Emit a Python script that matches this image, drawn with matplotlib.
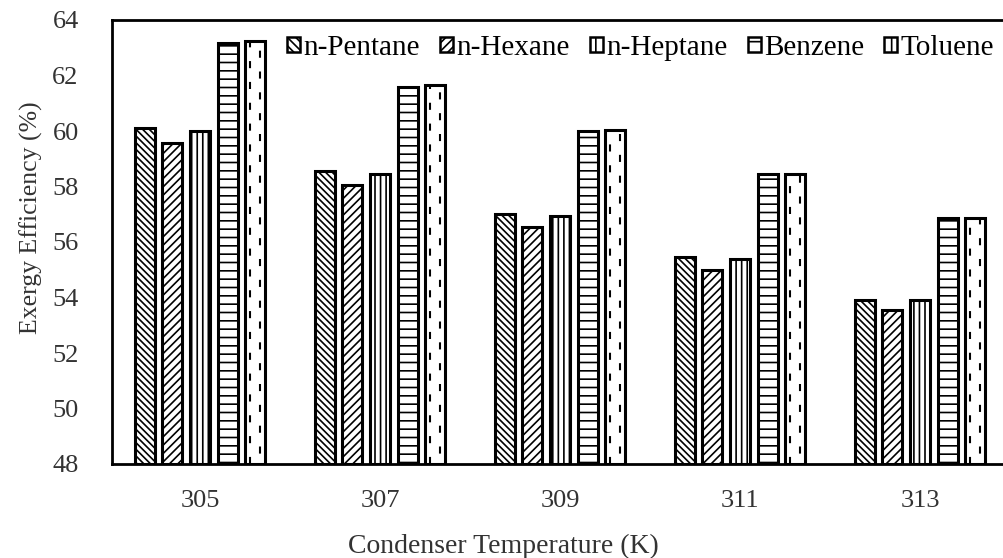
import matplotlib
matplotlib.use('Agg')
import matplotlib.pyplot as plt
from matplotlib.patches import Patch
import numpy as np

# Data
temps = ['305', '307', '309', '311', '313']
fluids = ['n-Pentane', 'n-Hexane', 'n-Heptane', 'Benzene', 'Toluene']
pentane = [60.1, 58.55, 57.0, 55.45, 53.9]
hexane = [59.58, 58.05, 56.55, 55.0, 53.55]
heptane = [60.0, 58.45, 56.95, 55.4, 53.9]
benzene = [63.18, 61.6, 60.0, 58.45, 56.85]
toluene = [63.23, 61.65, 60.05, 58.45, 56.85]
series = [pentane, hexane, heptane, benzene, toluene]
hatches = ['\\\\\\\\\\', '////', '|||', '--', '']
legend_hatches = ['\\\\\\\\', '////', '||', '-', '|']

plt.rcParams['font.family'] = ['Liberation Serif', 'DejaVu Serif']
plt.rcParams['hatch.linewidth'] = 1.2

fig = plt.figure(figsize=(10.04, 5.58), dpi=100)
ax = fig.add_axes([112 / 1004, 94 / 558, 892 / 1004, 444 / 558])

x = np.arange(len(temps))
w = 0.111
step = 0.154
for i, vals in enumerate(series):
    pos = x + (i - 2) * step
    ax.bar(pos, np.array(vals) - 48, w, bottom=48, color='white',
           edgecolor='black', linewidth=2.2, hatch=hatches[i])
    if fluids[i] == 'Toluene':
        # dashed vertical pattern, two staggered columns
        for k, v in enumerate(vals):
            ax.vlines(pos[k] - w * 0.25, 48, v, color='black', lw=1.5,
                      linestyles=[(0, (3.4, 6.6))])
            ax.vlines(pos[k] + w * 0.22, 48, v, color='black', lw=1.5,
                      linestyles=[(5, (3.4, 6.6))])

ax.set_ylim(48, 64)
ax.set_yticks(range(48, 65, 2))
ax.set_xlim(-88 / 180, 804 / 180)
ax.set_xticks(x)
ax.set_xticklabels(temps)
ax.tick_params(length=0, labelsize=19, colors='#333333')
ax.tick_params(axis='x', pad=19)
ax.tick_params(axis='y', pad=24)
for s in ['left', 'top', 'bottom']:
    ax.spines[s].set_linewidth(2)
ax.spines['right'].set_visible(False)

fig.text(503 / 1004, 1 - 553 / 558, 'Condenser Temperature (K)', fontsize=20,
         color='#333333', ha='center', va='baseline')
fig.text(31 / 1004, 1 - 218 / 558, 'Exergy Efficiency (%)', fontsize=18.5,
         color='#333333', ha='center', va='center', rotation=90)

handles = [Patch(facecolor='white', edgecolor='black', linewidth=1.8, hatch=h)
           for h in legend_hatches]
fig.legend(handles, fluids, loc='center left',
           bbox_to_anchor=(287 / 1004, 1 - 48 / 558), ncol=5, frameon=False,
           fontsize=21, handlelength=0.45, handleheight=0.45, handletextpad=0.12,
           columnspacing=0.68, borderaxespad=0, borderpad=0)

fig.savefig('out.png', dpi=100)
